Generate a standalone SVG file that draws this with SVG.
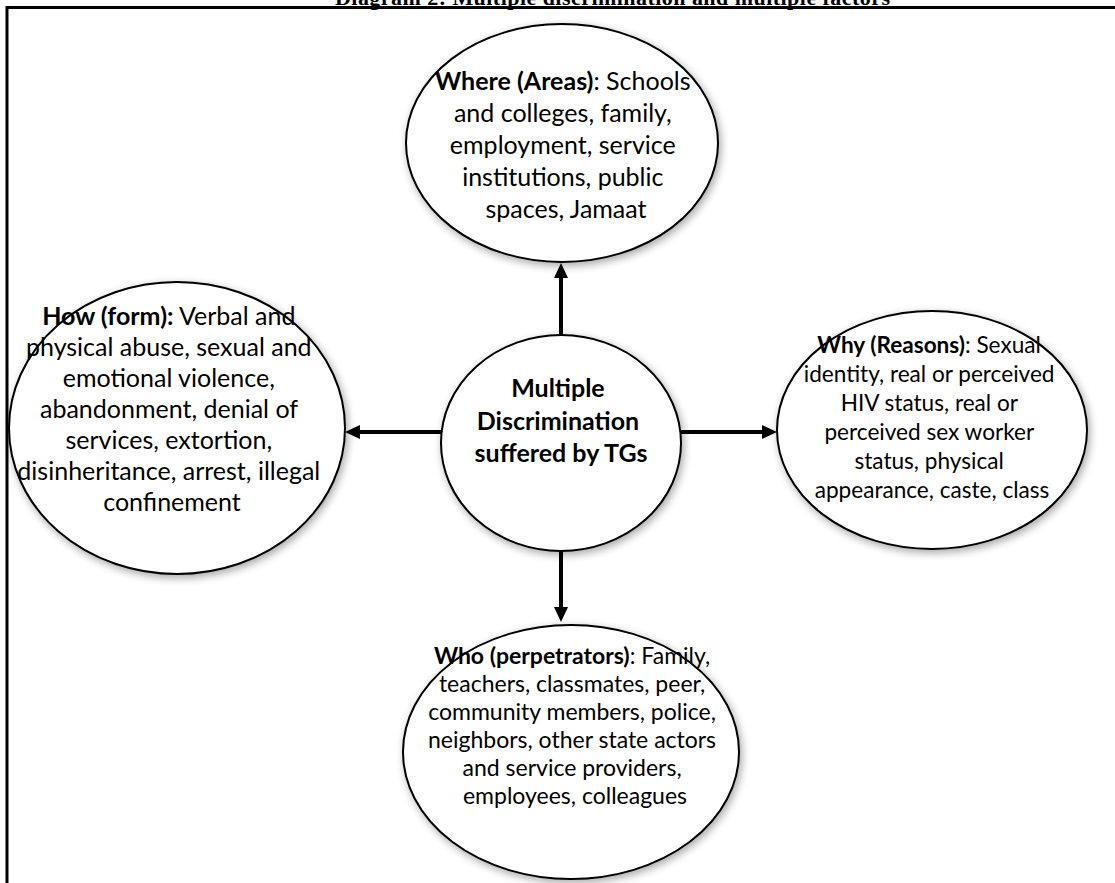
<svg xmlns="http://www.w3.org/2000/svg" width="1115" height="883" viewBox="0 0 1115 883">
  <defs>
    <filter id="shadow" x="-20%" y="-20%" width="140%" height="140%">
      <feGaussianBlur in="SourceAlpha" stdDeviation="4"/>
      <feOffset dx="2" dy="3" result="b"/>
      <feComponentTransfer><feFuncA type="linear" slope="0.35"/></feComponentTransfer>
      <feMerge><feMergeNode/><feMergeNode in="SourceGraphic"/></feMerge>
    </filter>
    <marker id="arrow" markerUnits="userSpaceOnUse" markerWidth="15" markerHeight="14" refX="0" refY="7" orient="auto">
      <path d="M0,0 L15,7 L0,14 z" fill="#000"/>
    </marker>
  </defs>
  <style>
    .node ellipse { fill: #fff; stroke: #000; stroke-width: 2; }
    .txt { font-family: Lato, "Open Sans", sans-serif; fill: #000; text-anchor: middle; }
    .b { font-weight: bold; }
    .conn line { stroke: #000; stroke-width: 4; }
    .frame { stroke: #000; stroke-width: 3; fill: none; }
    .title { font-family: "Liberation Serif", serif; font-weight: bold; font-size: 22px; fill: #000; }
  </style>
  <rect width="1115" height="883" fill="#fff"/>
  <text class="title" x="335" y="5" textLength="555" lengthAdjust="spacing">Diagram 2: Multiple discrimination and multiple factors</text>
  <path class="frame" d="M7,883 L7,7.5 L1115,7.5"/>

  <g id="connectors" class="conn">
    <line x1="561" y1="335" x2="561" y2="278" marker-end="url(#arrow)"/>
    <line x1="561" y1="552" x2="561" y2="607" marker-end="url(#arrow)"/>
    <line x1="441" y1="432" x2="360" y2="432" marker-end="url(#arrow)"/>
    <line x1="681" y1="432" x2="762" y2="432" marker-end="url(#arrow)"/>
  </g>

  <g id="where" class="node">
    <ellipse cx="562" cy="143" rx="156" ry="119" filter="url(#shadow)"/>
    <text class="txt" font-size="25">
      <tspan x="566" y="90"><tspan class="b">Where (Areas)</tspan>: Schools</tspan>
      <tspan x="566" y="122">and colleges, family,</tspan>
      <tspan x="566" y="154">employment, service</tspan>
      <tspan x="566" y="186">institutions, public</tspan>
      <tspan x="566" y="218">spaces, Jamaat</tspan>
    </text>
  </g>

  <g id="center" class="node">
    <ellipse cx="561" cy="443" rx="120" ry="108" filter="url(#shadow)"/>
    <text class="txt b" font-size="25">
      <tspan x="561" y="397">Multiple</tspan>
      <tspan x="561" y="430">Discrimination</tspan>
      <tspan x="561" y="462">suffered by TGs</tspan>
    </text>
  </g>

  <g id="how" class="node">
    <ellipse cx="177" cy="428" rx="168" ry="146" filter="url(#shadow)"/>
    <text class="txt" font-size="25">
      <tspan x="172" y="325"><tspan class="b">How (form):</tspan> Verbal and</tspan>
      <tspan x="172" y="356">physical abuse, sexual and</tspan>
      <tspan x="172" y="387">emotional violence,</tspan>
      <tspan x="172" y="418">abandonment, denial of</tspan>
      <tspan x="172" y="449">services, extortion,</tspan>
      <tspan x="172" y="480">disinheritance, arrest, illegal</tspan>
      <tspan x="172" y="511">confinement</tspan>
    </text>
  </g>

  <g id="why" class="node">
    <ellipse cx="932" cy="430" rx="155" ry="119" filter="url(#shadow)"/>
    <text class="txt" font-size="22.6">
      <tspan x="932" y="353"><tspan class="b">Why (Reasons)</tspan>: Sexual</tspan>
      <tspan x="932" y="382">identity, real or perceived</tspan>
      <tspan x="932" y="411">HIV status, real or</tspan>
      <tspan x="932" y="440">perceived sex worker</tspan>
      <tspan x="932" y="469">status, physical</tspan>
      <tspan x="932" y="498">appearance, caste, class</tspan>
    </text>
  </g>

  <g id="who" class="node">
    <ellipse cx="571" cy="752" rx="168" ry="127" filter="url(#shadow)"/>
    <text class="txt" font-size="23">
      <tspan x="575" y="664"><tspan class="b">Who (perpetrators)</tspan>: Family,</tspan>
      <tspan x="575" y="692">teachers, classmates, peer,</tspan>
      <tspan x="575" y="720">community members, police,</tspan>
      <tspan x="575" y="748">neighbors, other state actors</tspan>
      <tspan x="575" y="776">and service providers,</tspan>
      <tspan x="575" y="804">employees, colleagues</tspan>
    </text>
  </g>
</svg>
